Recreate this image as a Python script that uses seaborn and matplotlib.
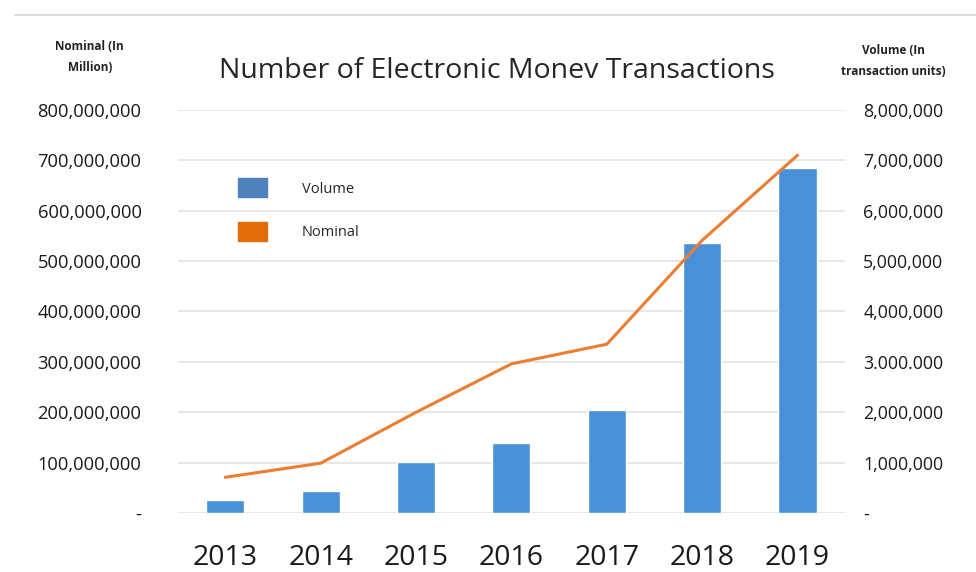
import matplotlib.pyplot as plt
import matplotlib.lines as mlines
import matplotlib.patches as mpatches
import seaborn as sns
import pandas as pd

# data
years = [2013, 2014, 2015, 2016, 2017, 2018, 2019]
volume = [265000, 445000, 1010000, 1390000, 2040000, 5360000, 6850000]
nominal = [71000000, 99000000, 200000000, 296000000, 335000000, 541000000, 710000000]

left_ticks = [0, 100e6, 200e6, 300e6, 400e6, 500e6, 600e6, 700e6, 800e6]
left_labels = ['-', '100,000,000', '200,000,000', '300,000,000', '400,000,000',
               '500,000,000', '600,000,000', '700,000,000', '800,000,000']
right_ticks = [0, 1e6, 2e6, 3e6, 4e6, 5e6, 6e6, 7e6, 8e6]
right_labels = ['-', '1,000,000', '2,000,000', '3.000.000', '4,000,000',
                '5,000,000', '6,000,000', '7,000,000', '8,000,000']

df = pd.DataFrame({'year': years, 'volume': volume, 'nominal': nominal})

sns.set_theme(style="white")
plt.rcParams['font.family'] = ['Open Sans', 'DejaVu Sans']

bar_color = '#4a90d9'
line_color = '#ec7d32'

fig = plt.figure(figsize=(9.76, 5.72), dpi=100)
ax = fig.add_axes([0.182, 0.103, 0.684, 0.705])
ax2 = ax.twinx()

# bars (volume) on the right axis, line (nominal) on the left axis drawn above
sns.barplot(data=df, x='year', y='volume', ax=ax2, color=bar_color,
            native_scale=True, width=0.4, saturation=1, zorder=2)
sns.lineplot(data=df, x='year', y='nominal', ax=ax, color=line_color,
             linewidth=2.2, zorder=3)
ax.set_zorder(ax2.get_zorder() + 1)
ax.patch.set_visible(False)

ax.set_xlim(2012.5, 2019.5)
ax.set_ylim(0, 800e6)
ax2.set_ylim(0, 8e6)
ax.set_xticks(years)
ax.set_xticklabels([str(y) for y in years], fontsize=20.5, color='#1a1a1a')
ax.tick_params(axis='x', length=0, pad=22)

ax.set_yticks(left_ticks)
ax.set_yticklabels(left_labels, fontsize=13.2, color='#1a1a1a')
ax.tick_params(axis='y', length=0, pad=26)
ax2.set_yticks(right_ticks)
ax2.set_yticklabels(right_labels, fontsize=12.8, color='#1a1a1a')
ax2.tick_params(axis='y', length=0, pad=13)

ax2.grid(axis='y', color='#e3e3e3', linewidth=1.2, zorder=0)
ax2.set_axisbelow(True)
for a in (ax, ax2):
    for s in a.spines.values():
        s.set_visible(False)
ax.set_xlabel('')
ax.set_ylabel('')
ax2.set_ylabel('')

handles = [mpatches.Patch(facecolor='#4f81bd', edgecolor='#4f81bd', label='Volume'),
           mpatches.Patch(facecolor='#e36c0a', edgecolor='#e36c0a', label='Nominal')]
ax.legend(handles=handles, loc='upper left', bbox_to_anchor=(0.09, 0.83),
          frameon=False, fontsize=10.5, handlelength=2.0, handleheight=1.6,
          handletextpad=2.4, labelspacing=1.7, borderpad=0, borderaxespad=0)

fig.text(0.509, 0.876, 'Number of Electronic Monev Transactions', ha='center',
         va='center', fontsize=20.5, color='#262626')
fig.text(0.092, 0.900, 'Nominal (In\nMillion)', ha='center', va='center',
         fontsize=8.5, fontweight='bold', color='#222222', linespacing=1.8)
fig.text(0.915, 0.893, 'Volume (In\ntransaction units)', ha='center', va='center',
         fontsize=8.5, fontweight='bold', color='#222222', linespacing=1.8)

fig.add_artist(mlines.Line2D([0.015, 1.0], [0.974, 0.974], color='#dddddd',
                             linewidth=1.5, transform=fig.transFigure))

fig.savefig('out.png', dpi=100)
